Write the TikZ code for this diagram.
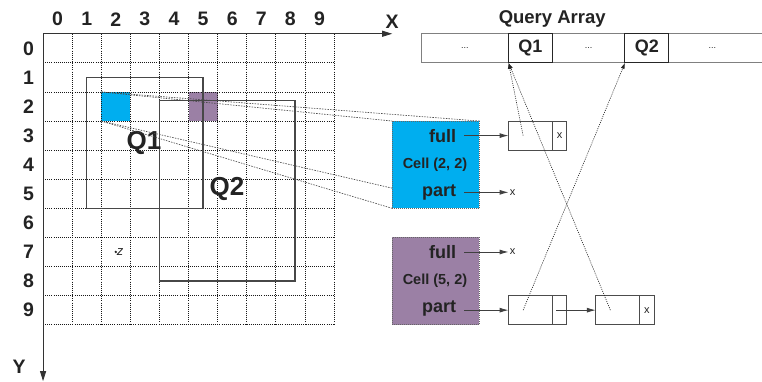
\documentclass[tikz,border=0pt]{standalone}
\usepackage{fontspec}
\setmainfont{Liberation Sans}
\usetikzlibrary{arrows.meta}

\definecolor{cellblue}{RGB}{0,174,239}
\definecolor{cellpurple}{RGB}{155,128,165}
\definecolor{ink}{RGB}{35,35,35}

\begin{document}
\begin{tikzpicture}[x=29.1pt,y=-29.1pt,
		every node/.style={text=ink},
		numlabel/.style={font=\fontsize{19.5}{19.5}\selectfont\bfseries},
		biglabel/.style={font=\fontsize{26}{26}\selectfont\bfseries},
		gridline/.style={dash pattern=on 0.9pt off 1.2pt, line width=0.75pt, black!90},
		axis/.style={line width=0.9pt, black!80, -{Triangle[length=10pt,width=6pt]}},
		query/.style={line width=1.4pt, black!72},
		callout/.style={dash pattern=on 1.5pt off 1.2pt, line width=0.65pt, black!70},
		cellbox/.style={draw=black!60, dash pattern=on 1pt off 1pt, line width=0.8pt,
			minimum width=87.3pt, minimum height=87.3pt, inner sep=0pt, outer sep=0pt},
		entry/.style={anchor=east, inner sep=0pt, font=\fontsize{18}{18}\selectfont\bfseries},
		celltitle/.style={inner sep=0pt, font=\fontsize{14.5}{14.5}\selectfont\bfseries},
		ptr/.style={line width=0.9pt, black!75, -{Latex[length=9pt,width=5pt]}},
		backptr/.style={dash pattern=on 1pt off 1.2pt, line width=0.65pt, black!85,
			-{Latex[length=6pt,width=4pt]}},
		slot/.style={draw=black!70, line width=0.9pt, minimum height=29.1pt,
			inner sep=0pt, outer sep=0pt, font=\fontsize{11}{11}\selectfont},
		nil/.style={anchor=west, inner sep=1pt, font=\fontsize{11}{11}\selectfont},
		arrcell/.style={draw=black!50, line width=1pt, minimum height=29.1pt,
			inner sep=0pt, outer sep=0pt, font=\fontsize{9}{9}\selectfont},
		arrquery/.style={arrcell, draw=black!85, font=\fontsize{18}{18}\selectfont\bfseries}]
	\useasboundingbox (-1.48,-1.16) rectangle (24.71,11.94);

	% highlighted cells
	\fill[cellblue] (2,2) rectangle (3,3);
	\fill[cellpurple] (5,2) rectangle (6,3);

	% grid and axes
	\foreach \k in {1,...,10} {
		\draw[gridline] (\k,0) -- (\k,10);
		\draw[gridline] (0,\k) -- (10,\k);
	}
	\draw[axis] (0,0) -- (12,0);
	\draw[axis] (0,0) -- (0,11.94);
	\node[numlabel] (xlabel) at (12,-0.4) {X};
	\node[numlabel] (ylabel) at (-0.82,11.44) {Y};
	\foreach \i in {0,...,9} {
		\node[numlabel] (col\i) at (\i+0.5,-0.5) {\i};
		\node[numlabel] (row\i) at (-0.5,\i+0.5) {\i};
	}

	% query ranges
	\draw[query] (1.5,1.5) rectangle (5.5,6);
	\draw[query] (4,2.3) rectangle (8.66,8.5);
	\node[biglabel] (q1label) at (3.47,3.75) {Q1};
	\node[biglabel] (q2label) at (6.32,5.34) {Q2};

	% point z
	\fill[ink] (2.5,7.5) circle (1.3pt) coordinate (zpt);
	\node[anchor=west, inner sep=1pt, font=\fontsize{13}{13}\selectfont\itshape] (zlabel) at (zpt) {z};

	% callout from cell (2,2)
	\draw[callout] (2,2) -- (12,3);
	\draw[callout] (2,2) -- (15,3);
	\draw[callout] (2,3) -- (12,6);
	\draw[callout] (2,3) -- (15,6);

	% cell records
	\node[cellbox, fill=cellblue] (cellA) at (13.5,4.5) {};
	\node[cellbox, fill=cellpurple] (cellB) at (13.5,8.5) {};
	\node[entry] (fullA) at (14.2,3.5) {full};
	\node[celltitle] (titleA) at (13.47,4.5) {Cell (2, 2)};
	\node[entry] (partA) at (14.2,5.45) {part};
	\node[entry] (fullB) at (14.2,7.5) {full};
	\node[celltitle] (titleB) at (13.47,8.5) {Cell (5, 2)};
	\node[entry] (partB) at (14.2,9.45) {part};

	% query array
	\node[arrcell, minimum width=87.3pt] (qdotsA) at (14.5,0.5) {...};
	\node[arrcell, minimum width=72.75pt] (qdotsB) at (18.75,0.5) {...};
	\node[arrcell, draw=none, minimum width=87.3pt] (qdotsC) at (23,0.5) {...};
	\draw[black!50, line width=1pt] (21.5,0) -- (24.8,0) (21.5,1) -- (24.8,1);
	\node[arrquery, minimum width=43.65pt] (qQ1) at (16.75,0.5) {Q1};
	\node[arrquery, minimum width=43.65pt] (qQ2) at (20.75,0.5) {Q2};
	\node[numlabel, font=\fontsize{18.5}{18.5}\selectfont\bfseries] (qtitle) at (17.5,-0.5) {Query Array};

	% lists
	\node[slot, minimum width=43.65pt] (la1) at (16.75,3.5) {};
	\node[slot, minimum width=14.55pt] (la1n) at (17.75,3.5) {x};
	\node[slot, minimum width=43.65pt] (lb1) at (16.75,9.5) {};
	\node[slot, minimum width=14.55pt] (lb1n) at (17.75,9.5) {};
	\node[slot, minimum width=43.65pt] (lb2) at (19.75,9.5) {};
	\node[slot, minimum width=14.55pt] (lb2n) at (20.75,9.5) {x};
	\node[nil] (nilA) at (16,5.45) {x};
	\node[nil] (nilB) at (16,7.5) {x};

	\draw[ptr] ([xshift=8pt]fullA.east) -- (la1.west);
	\draw[ptr] ([xshift=8pt]partA.east) -- (nilA.west);
	\draw[ptr] ([xshift=8pt]fullB.east) -- (nilB.west);
	\draw[ptr] ([xshift=8pt]partB.east |- lb1.west) -- (lb1.west);
	\draw[ptr] ([xshift=-3.5pt]lb1n.center) -- (lb2.west);

	% back pointers to the queries
	\draw[backptr] ([xshift=-7.3pt]la1.center) -- (qQ1.south west);
	\draw[backptr] ([xshift=-7.3pt]lb1.center) -- (qQ2.south west);
	\draw[backptr] ([xshift=-7.3pt]lb2.center) -- (qQ1.south west);
\end{tikzpicture}
\end{document}
